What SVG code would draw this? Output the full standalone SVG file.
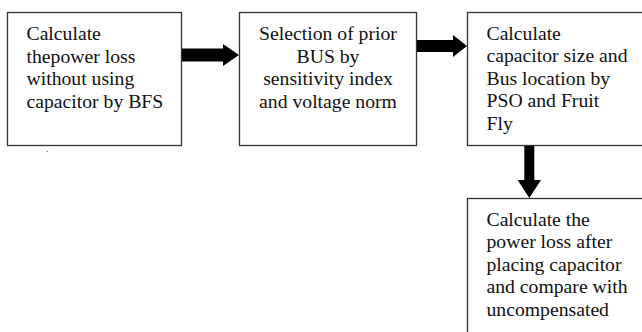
<svg xmlns="http://www.w3.org/2000/svg" width="642" height="332" viewBox="0 0 642 332">
  <style>
    .box { fill: #ffffff; stroke: #333333; stroke-width: 1.3; }
    .lbl { font-family: "Liberation Serif", "Times New Roman", serif; font-size: 19.7px; fill: #111111; }
    .mid { text-anchor: middle; }
    .arrow { fill: #000000; }
  </style>
  <rect width="642" height="332" fill="#ffffff"/>

  <g id="connectors">
    <polygon class="arrow" points="182,48.5 223,48.5 223,44 239,55 223,66 223,61.5 182,61.5"/>
    <polygon class="arrow" points="417,40 453,40 453,35 467,46 453,57 453,52 417,52"/>
    <polygon class="arrow" points="524.3,146 534.3,146 534.3,180 541,180 529.3,198 517.6,180 524.3,180"/>
  </g>

  <g id="node-bfs">
    <rect class="box" x="7.5" y="12.5" width="174" height="133"/>
    <text class="lbl" x="26.5" y="40">Calculate</text>
    <text class="lbl" x="26.5" y="62.5">thepower loss</text>
    <text class="lbl" x="26.5" y="85">without using</text>
    <text class="lbl" x="26.5" y="107.5">capacitor by BFS</text>
    <text class="lbl" x="46" y="152" style="font-size:10px;fill:#556">.</text>
  </g>

  <g id="node-selection">
    <rect class="box" x="239.5" y="12.5" width="177" height="133"/>
    <text class="lbl mid" x="328" y="40">Selection of prior</text>
    <text class="lbl mid" x="328" y="62.5">BUS by</text>
    <text class="lbl mid" x="328" y="85">sensitivity index</text>
    <text class="lbl mid" x="328" y="107.5">and voltage norm</text>
  </g>

  <g id="node-optimise">
    <rect class="box" x="467.5" y="12.5" width="190" height="133"/>
    <text class="lbl" x="486.5" y="39.5">Calculate</text>
    <text class="lbl" x="486.5" y="62">capacitor size and</text>
    <text class="lbl" x="486.5" y="84.5">Bus location by</text>
    <text class="lbl" x="486.5" y="107">PSO and Fruit</text>
    <text class="lbl" x="486.5" y="129.5">Fly</text>
  </g>

  <g id="node-compare">
    <rect class="box" x="467.5" y="198.5" width="190" height="160"/>
    <text class="lbl" x="486.5" y="226">Calculate the</text>
    <text class="lbl" x="486.5" y="248.4">power loss after</text>
    <text class="lbl" x="486.5" y="270.8">placing capacitor</text>
    <text class="lbl" x="486.5" y="293.2">and compare with</text>
    <text class="lbl" x="486.5" y="315.6">uncompensated</text>
  </g>
</svg>
